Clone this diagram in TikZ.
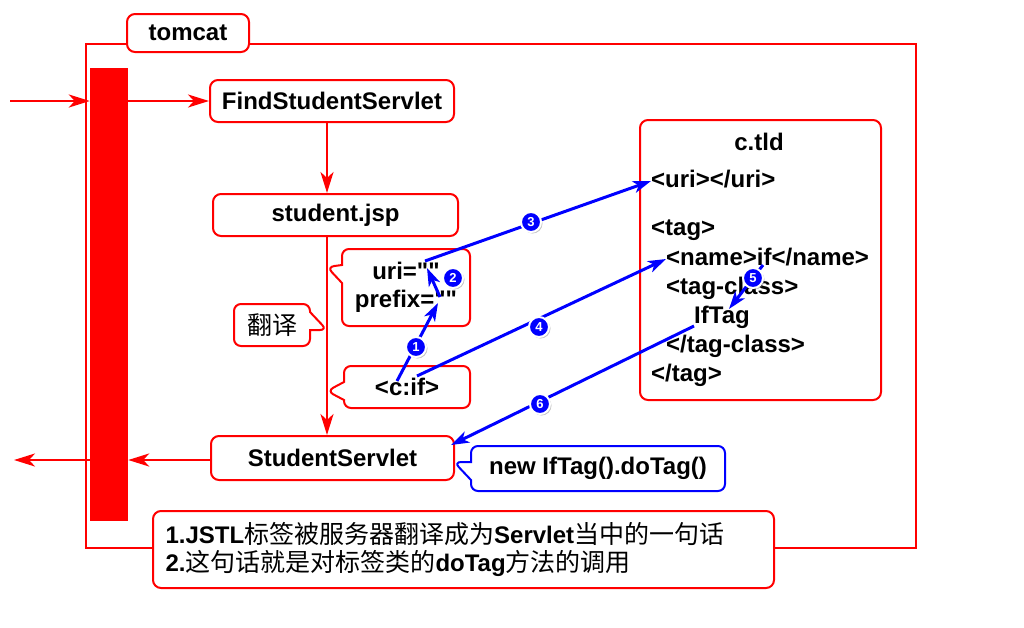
\documentclass[tikz,border=0pt]{standalone}
\usepackage{fontspec}
\setmainfont{Liberation Sans}[Ligatures=TeXOff]
\newfontfamily\zhfont{Noto Sans CJK SC}
\newcommand{\zh}[1]{{\zhfont\mdseries\fontsize{25}{28}\selectfont #1}}
\usetikzlibrary{shapes,shapes.callouts,arrows.meta,positioning,shadows}

\begin{document}
\begin{tikzpicture}[x=1pt, y=-1pt, >={Stealth[length=21pt,width=13pt,inset=6pt]},
    font=\fontsize{24}{28}\selectfont\bfseries,
    flow/.style={red, line width=2.6pt},
    call/.style={blue, line width=3pt, -{Stealth[length=18pt,width=12pt,inset=5pt]}},
    box/.style={draw=red, line width=2pt, rounded corners=8pt, fill=white,
        minimum width=244pt, minimum height=42pt},
    bubble/.style={rectangle callout, draw=red, line width=2pt, rounded corners=7pt,
        fill=white, callout pointer width=18pt, inner sep=4pt},
    num/.style={circle, fill=blue, draw=white, line width=2pt, text=white, inner sep=0pt,
        minimum size=20pt, font=\fontsize{13}{13}\selectfont\bfseries,
        drop shadow={opacity=0.45, shadow xshift=1.5pt, shadow yshift=-1.5pt}},
    tld/.style={anchor=west, inner sep=0pt, text height=17pt, text depth=5pt}]

    \useasboundingbox (0,0) rectangle (1024,627);

    % tomcat frame
    \draw[flow] (86,44) rectangle (916,548);
    \node[box, minimum width=122pt, minimum height=38pt] (tomcat) at (188,33) {tomcat};
    \node[fill=red, minimum width=38pt, minimum height=453pt, inner sep=0pt] (bar) at (109,294.5) {};

    % servlets and jsp
    \coordinate (spine) at (327,0);
    \node[box] (fss) at (332,101) {FindStudentServlet};
    \node[box, minimum width=245pt] (jsp) at (335.5,215) {student.jsp};
    \node[box, minimum width=243pt, minimum height=44pt] (ss) at (332.5,458) {StudentServlet};

    \coordinate (in) at (10,101);
    \coordinate (out) at (14,460);
    \draw[flow,->] (in) -- (bar.west |- fss);
    \draw[flow,->] (bar.east |- fss) -- (fss);
    \draw[flow,->] (fss.south -| spine) -- (jsp.north -| spine);
    \draw[flow,->] (jsp.south -| spine) -- (ss.north -| spine);
    \draw[flow,->] (ss.west |- 0,460) -- (bar.east |- 0,460);
    \draw[flow,->] (bar.west |- 0,460) -- (out);

    % callouts on the translation line
    \node[bubble, minimum width=128pt, minimum height=77pt, align=center,
        callout absolute pointer={(327,267)}] (attr) at (406,287.5) {uri=""\\prefix=""};
    \node[bubble, minimum width=76pt, minimum height=42pt,
        callout absolute pointer={(327,330)}] (trans) at (272,325) {\zh{翻译}};
    \node[bubble, minimum width=126pt, minimum height=42pt,
        callout absolute pointer={(327,391)}] (cif) at (407,387) {<c:if>};
    \node[bubble, draw=blue, minimum width=254pt, minimum height=45pt,
        callout absolute pointer={(454,462)}] (dotag) at (598,468.5) {new IfTag().doTag()};

    % c.tld
    \node[box, minimum width=241pt, minimum height=280pt] (tldbox) at (760.5,260) {};
    \node (title) at (759,142) {c.tld};
    \node[tld] (uri) at (651,181) {<uri></uri>};
    \node[tld] (tag) at (651,229) {<tag>};
    \node[tld] (name) at (666,259) {<name>if</name>};
    \node[tld] (cls) at (666,288) {<tag-class>};
    \node[tld] (iftag) at (694,317) {IfTag};
    \node[tld] (clsend) at (666,346) {</tag-class>};
    \node[tld] (tagend) at (651,375) {</tag>};

    % note
    \node[box, minimum width=621pt, minimum height=77pt, align=left, text width=596pt]
        (note) at (463.5,549.5)
        {1.JSTL\zh{标签被服务器翻译成为}Servlet\zh{当中的一句话}\\
         2.\zh{这句话就是对标签类的}doTag\zh{方法的调用}};

    % call steps
    \coordinate (cifa) at (397,381);
    \coordinate (cifb) at (417,376);
    \coordinate (prefq) at (438,303);
    \coordinate (prefb) at (440,297);
    \coordinate (uriq) at (427,268);
    \coordinate (uria) at (425,261);
    \coordinate (ifq) at (763,265);
    \coordinate (clsq) at (729,309);
    \coordinate (ssq) at (451,445);

    \draw[call] (cifa) -- (prefq);
    \draw[call] (prefb) -- (uriq);
    \draw[call] (uria) -- (uri.west);
    \draw[call] (cifb) -- (name.west);
    \draw[call] (ifq) -- (clsq);
    \draw[call] (iftag.west |- 0,326) -- (ssq);

    \node[num] (n1) at (416,347) {1};
    \node[num] (n2) at (453,278) {2};
    \node[num] (n3) at (531,222) {3};
    \node[num] (n4) at (539,327) {4};
    \node[num] (n5) at (753,278) {5};
    \node[num] (n6) at (540,404) {6};

\end{tikzpicture}
\end{document}
